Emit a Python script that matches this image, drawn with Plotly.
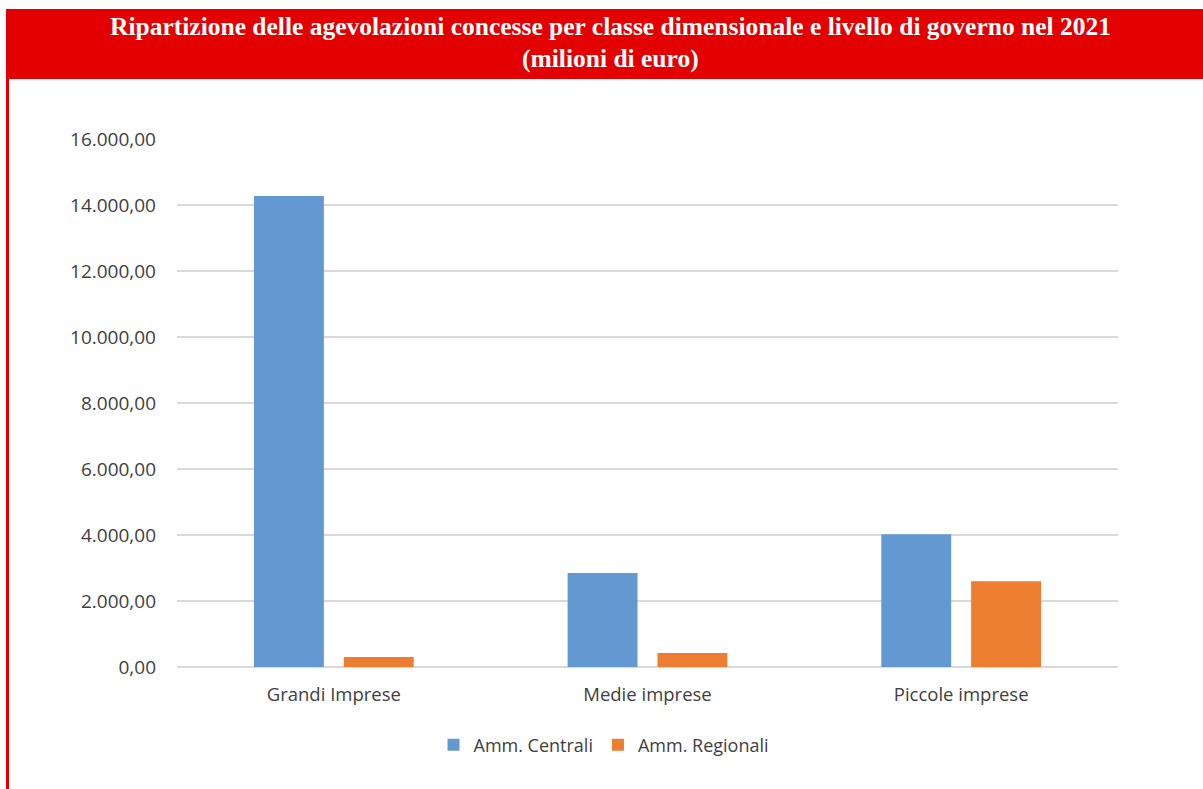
import plotly.graph_objects as go

categories = ["Grandi Imprese", "Medie imprese", "Piccole imprese"]
amm_centrali = [14270, 2850, 4020]
amm_regionali = [300, 425, 2600]
series_names = ["Amm. Centrali", "Amm. Regionali"]
tick_vals = [0, 2000, 4000, 6000, 8000, 10000, 12000, 14000, 16000]

W, H = 1203, 789
L, R, T, B = 177, 1118, 139, 667  # plot area in pixels


def px(x):
    return (x - L) / (R - L)


def py(y):
    return (B - y) / (B - T)


fig = go.Figure()
fig.add_trace(go.Bar(x=categories, y=amm_centrali, name=series_names[0],
                     marker=dict(color="#6399D1", line=dict(width=0))))
fig.add_trace(go.Bar(x=categories, y=amm_regionali, name=series_names[1],
                     marker=dict(color="#ED7D31", line=dict(width=0))))

fig.update_layout(
    width=W, height=H,
    margin=dict(l=L, r=W - R, t=T, b=H - B, pad=0),
    paper_bgcolor="white", plot_bgcolor="white",
    barmode="group", bargap=0.427, bargroupgap=0.222,
    separators=",.",
    font=dict(family="Open Sans", color="#404040", size=18),
    showlegend=True,
    legend=dict(orientation="h", x=px(604), xanchor="center", y=py(745), yanchor="middle",
                font=dict(size=18, color="#404040"), itemwidth=30, traceorder="normal"),
    xaxis=dict(showgrid=False, showline=False, ticks="", tickfont=dict(size=18.5, color="#404040"),
               ticklabelstandoff=14),
    yaxis=dict(range=[0, 16000], tickvals=tick_vals, tickformat=",.2f",
               showgrid=True, gridcolor="#D9D9D9", gridwidth=1.5,
               zeroline=True, zerolinecolor="#D9D9D9", zerolinewidth=1.5,
               showline=False, ticks="", tickfont=dict(size=19, color="#404040"),
               ticklabelstandoff=20),
    shapes=[
        dict(type="rect", xref="paper", yref="paper", x0=px(6), x1=px(1203), y0=py(79), y1=py(9),
             fillcolor="#E30000", line=dict(width=0), layer="above"),
        dict(type="rect", xref="paper", yref="paper", x0=px(6), x1=px(9), y0=py(789), y1=py(79),
             fillcolor="#E30000", line=dict(width=0), layer="above"),
    ],
    annotations=[
        dict(text="<b>Ripartizione delle agevolazioni concesse per classe dimensionale e livello di governo nel 2021</b>",
             xref="paper", yref="paper", x=px(610), y=py(27), xanchor="center", yanchor="middle",
             showarrow=False, font=dict(family="Liberation Serif", size=25.5, color="white")),
        dict(text="<b>(milioni di euro)</b>",
             xref="paper", yref="paper", x=px(610), y=py(59), xanchor="center", yanchor="middle",
             showarrow=False, font=dict(family="Liberation Serif", size=25.5, color="white")),
    ],
)

fig.write_html("out.html", config={"displayModeBar": False},
               post_script="document.body.style.margin='0';document.body.style.padding='0';")
